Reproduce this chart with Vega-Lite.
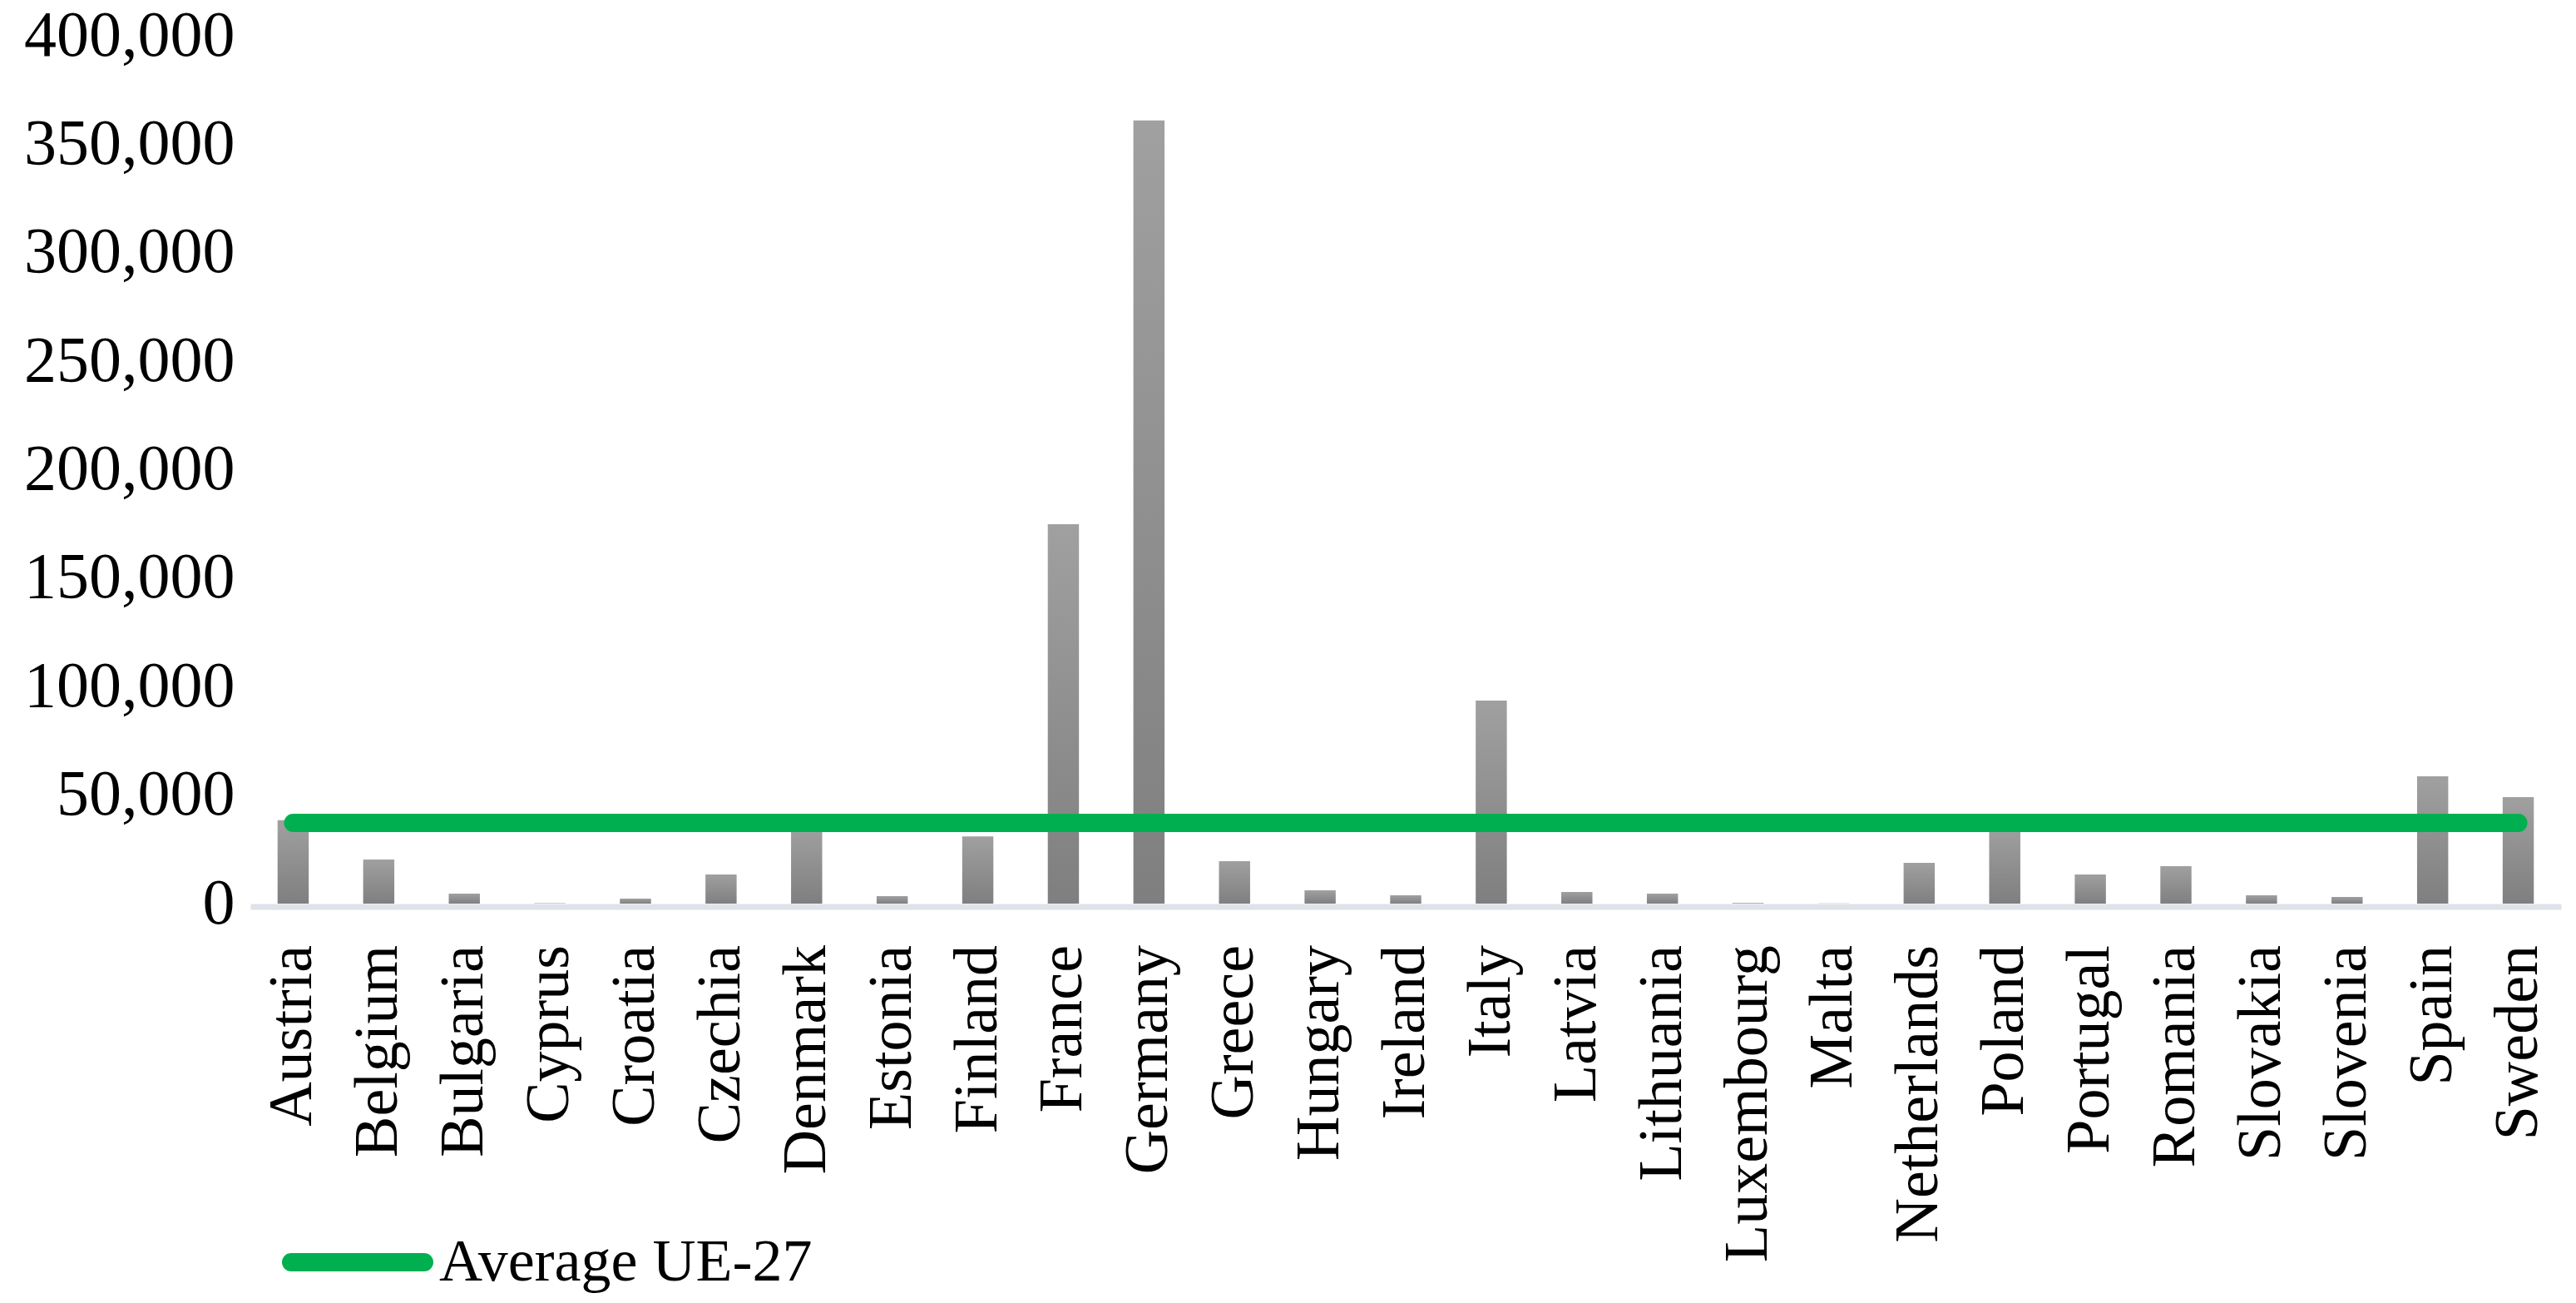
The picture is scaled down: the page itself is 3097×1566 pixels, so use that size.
{
  "$schema": "https://vega.github.io/schema/vega-lite/v6.json",
  "autosize": {"type": "none"},
  "padding": {"left": 301, "top": 43, "right": 18, "bottom": 480},
  "width": 2778,
  "height": 1043,
  "background": "white",
  "config": {"view": {"stroke": null}},
  "datasets": {
    "countries": [
      {"country": "Austria", "value": 38400},
      {"country": "Belgium", "value": 20300},
      {"country": "Bulgaria", "value": 4600},
      {"country": "Cyprus", "value": 200},
      {"country": "Croatia", "value": 2300},
      {"country": "Czechia", "value": 13400},
      {"country": "Denmark", "value": 35000},
      {"country": "Estonia", "value": 3450},
      {"country": "Finland", "value": 31000},
      {"country": "France", "value": 174900},
      {"country": "Germany", "value": 361000},
      {"country": "Greece", "value": 19600},
      {"country": "Hungary", "value": 6100},
      {"country": "Ireland", "value": 3800},
      {"country": "Italy", "value": 93600},
      {"country": "Latvia", "value": 5400},
      {"country": "Lithuania", "value": 4600},
      {"country": "Luxembourg", "value": 300},
      {"country": "Malta", "value": 100},
      {"country": "Netherlands", "value": 18800},
      {"country": "Poland", "value": 35500},
      {"country": "Portugal", "value": 13400},
      {"country": "Romania", "value": 17300},
      {"country": "Slovakia", "value": 3800},
      {"country": "Slovenia", "value": 3100},
      {"country": "Spain", "value": 58700},
      {"country": "Sweden", "value": 49100}
    ],
    "average": [
      {"series": "Average UE-27", "from": "Austria", "to": "Sweden", "value": 37200}
    ]
  },
  "encoding": {
    "x": {
      "field": "country",
      "type": "nominal",
      "sort": null,
      "scale": {
        "domain": ["Austria","Belgium","Bulgaria","Cyprus","Croatia","Czechia","Denmark","Estonia","Finland","France","Germany","Greece","Hungary","Ireland","Italy","Latvia","Lithuania","Luxembourg","Malta","Netherlands","Poland","Portugal","Romania","Slovakia","Slovenia","Spain","Sweden"],
        "paddingInner": 0.636,
        "paddingOuter": 0.318
      },
      "axis": {
        "title": null,
        "labelAngle": -90,
        "labelFont": "Liberation Serif",
        "labelFontSize": 74,
        "labelColor": "black",
        "labelPadding": 46,
        "labelLimit": 1000,
        "ticks": false,
        "domain": true,
        "domainColor": "#dee3ea",
        "domainWidth": 7,
        "offset": 3.5,
        "grid": false
      }
    }
  },
  "layer": [
    {
      "data": {"name": "countries"},
      "mark": {
        "type": "bar",
        "color": {
          "gradient": "linear",
          "x1": 0, "y1": 0, "x2": 0, "y2": 1,
          "stops": [
            {"offset": 0, "color": "#a0a0a0"},
            {"offset": 1, "color": "#7f7f7f"}
          ]
        }
      },
      "encoding": {
        "y": {
          "field": "value",
          "type": "quantitative",
          "scale": {"domain": [0, 400000], "nice": false},
          "axis": {
            "title": null,
            "values": [0, 50000, 100000, 150000, 200000, 250000, 300000, 350000, 400000],
            "format": ",d",
            "labelFont": "Liberation Serif",
            "labelFontSize": 78,
            "labelColor": "black",
            "labelPadding": 19,
            "labelLimit": 1000,
            "ticks": false,
            "domain": false,
            "grid": false
          }
        }
      }
    },
    {
      "data": {"name": "average"},
      "mark": {"type": "rule", "strokeWidth": 22, "strokeCap": "round"},
      "encoding": {
        "x": {"field": "from", "type": "nominal"},
        "x2": {"field": "to"},
        "y": {"field": "value", "type": "quantitative"},
        "color": {
          "field": "series",
          "type": "nominal",
          "scale": {"range": ["#00b050"]},
          "legend": {
            "title": null,
            "orient": "none",
            "legendX": 38,
            "legendY": 1383,
            "padding": 0,
            "symbolType": "stroke",
            "symbolSize": 25600,
            "symbolStrokeWidth": 22,
            "symbolStrokeColor": "#00b050",
            "labelFont": "Liberation Serif",
            "labelFontSize": 72,
            "labelColor": "black",
            "labelOffset": 7,
            "labelLimit": 1000,
            "encode": {"symbols": {"update": {"strokeCap": {"value": "round"}}}}
          }
        }
      }
    }
  ]
}
